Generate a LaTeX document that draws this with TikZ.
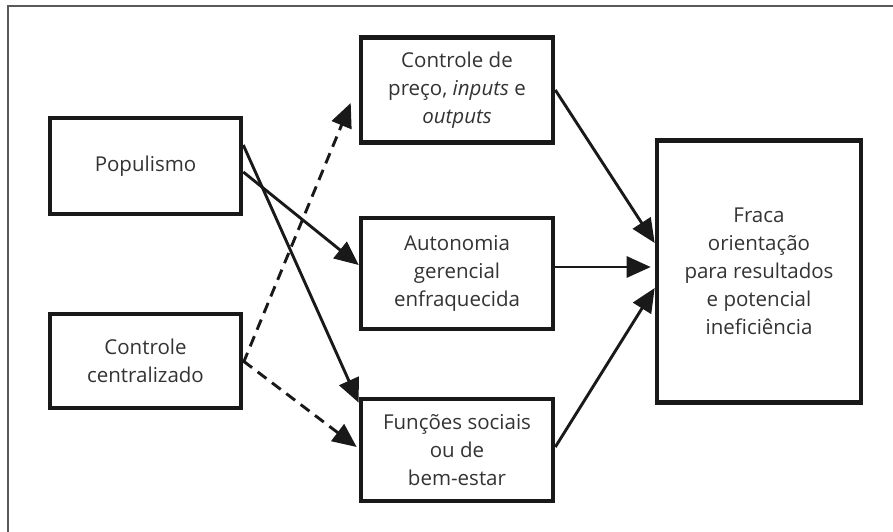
\documentclass[tikz,border=0pt]{standalone}
\usepackage{fontspec}
\setmainfont{Open Sans}
\usetikzlibrary{arrows.meta}
\begin{document}
\begin{tikzpicture}[x=1pt,y=-1pt,
  box/.style={draw=black!90, line width=4.6pt, align=center,
    font=\fontsize{20.5}{28}\selectfont, inner sep=0pt, text=black!80},
  conn/.style={line width=2.9pt, black!90, -{Triangle[length=24pt,width=21pt]}},
  dconn/.style={conn, dash pattern=on 11pt off 7pt}]
\useasboundingbox (0,0) rectangle (893,531);
\draw[line width=2pt, black!65] (900,5.5) -- (7.5,5.5) -- (7.5,540);

\node[box, minimum width=191pt, minimum height=96pt] (pop) at (145.5,166) {Populismo};
\node[box, minimum width=191pt, minimum height=94pt] (cc) at (145.5,361) {Controle\\centralizado};
\node[box, minimum width=192pt, minimum height=105pt] (cp) at (457,90) {Controle de\\preço, \textit{inputs} e\\\textit{outputs}};
\node[box, minimum width=192pt, minimum height=111pt] (au) at (457,273.5) {Autonomia\\gerencial\\enfraquecida};
\node[box, minimum width=192pt, minimum height=102pt] (fun) at (457,450) {Funções sociais\\ou de\\bem-estar};
\node[box, minimum width=204pt, minimum height=262pt] (fr) at (759,271.5) {Fraca\\orientação\\para resultados\\e potencial\\ineficiência};

\draw[conn] ([yshift=-6pt]pop.east) -- ([yshift=8.5pt]au.west);
\draw[conn] ([yshift=21pt]pop.east) -- ([yshift=-6pt]fun.north west);
\draw[dconn] ([yshift=-2pt]cc.east) -- ([xshift=-8pt,yshift=-13pt]cp.west);
\draw[dconn] (cc.east) -- ([xshift=-2pt,yshift=3pt]fun.west);
\draw[conn] (cp.east) -- ([yshift=28.5pt]fr.west);
\draw[conn] ([yshift=6.5pt]au.east) -- ([xshift=-4pt,yshift=4.5pt]fr.west);
\draw[conn] ([yshift=3pt]fun.east) -- ([yshift=-16.5pt]fr.west);
\end{tikzpicture}
\end{document}
